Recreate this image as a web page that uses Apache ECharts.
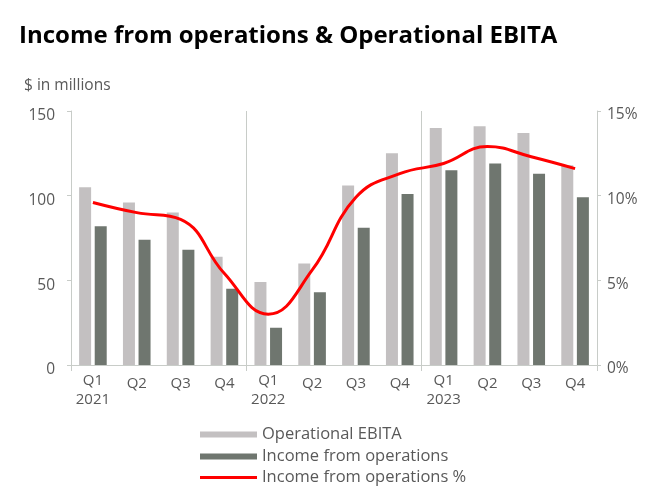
<!DOCTYPE html>
<html lang="en">
<head>
    <meta charset="UTF-8">
    <title>Income from operations & Operational EBITA</title>
    <script src="https://cdn.jsdelivr.net/npm/echarts@6/dist/echarts.min.js"></script>
    <style>
        html, body { margin: 0; padding: 0; background: #fff; }
        #chart { width: 671px; height: 494px; }
    </style>
</head>
<body>
    <div id="chart"></div>
    <script type="text/javascript">
        // data
        var quarters = ['Q1', 'Q2', 'Q3', 'Q4', 'Q1', 'Q2', 'Q3', 'Q4', 'Q1', 'Q2', 'Q3', 'Q4'];
        var years = ['2021', '', '', '', '2022', '', '', '', '2023', '', '', ''];
        var ebita = [105, 96, 90, 64, 49, 60, 106, 125, 140, 141, 137, 118];
        var income = [82, 74, 68, 45, 22, 43, 81, 101, 115, 119, 113, 99];
        var incomePct = [9.6, 9.0, 8.6, 5.4, 3.0, 5.6, 9.9, 11.3, 11.9, 12.9, 12.3, 11.6];
        var leftTicks = [0, 150, 50];   // min, max, step
        var rightTicks = [0, 15, 5];

        var categories = quarters.map(function (q, i) {
            return years[i] ? q + '\n' + years[i] : q;
        });

        var font = 'Open Sans';
        var grey = '#595959';
        var lineGrey = '#c8ccc8';

        var myChart = echarts.init(document.getElementById('chart'));
        var option = {
            animation: false,
            textStyle: { fontFamily: font },
            title: [{
                text: 'Income from operations & Operational EBITA',
                left: 14,
                top: 19,
                textStyle: { fontFamily: font, fontSize: 24, fontWeight: 'bold', color: '#000' }
            }, {
                text: '$ in millions',
                left: 19,
                top: 73,
                textStyle: { fontFamily: font, fontSize: 15.5, fontWeight: 'normal', color: grey }
            }],
            grid: { left: 71, right: 74, top: 111, bottom: 129 },
            legend: [{
                data: ['Operational EBITA'],
                orient: 'vertical', left: 200, top: 426, padding: 0,
                icon: 'rect', itemWidth: 57, itemHeight: 6,
                textStyle: { fontSize: 16.5, color: grey }
            }, {
                data: ['Income from operations'],
                orient: 'vertical', left: 200, top: 448, padding: 0,
                icon: 'rect', itemWidth: 57, itemHeight: 6,
                textStyle: { fontSize: 16.5, color: grey }
            }, {
                data: ['Income from operations %'],
                orient: 'vertical', left: 200, top: 469, padding: 0,
                icon: 'rect', itemWidth: 57, itemHeight: 3,
                textStyle: { fontSize: 16.5, color: grey }
            }],
            xAxis: {
                type: 'category',
                data: categories,
                axisLine: { lineStyle: { color: lineGrey } },
                axisTick: {
                    show: true, length: 6,
                    interval: function (i) { return i % 4 === 0; },
                    lineStyle: { color: lineGrey }
                },
                splitLine: {
                    show: true,
                    interval: function (i) { return i % 4 === 0 && i > 0; },
                    lineStyle: { color: lineGrey }
                },
                axisLabel: {
                    interval: 0, margin: 6, color: grey, fontSize: 15, lineHeight: 19,
                    formatter: function (v) {
                        return v.indexOf('\n') >= 0 ? v : '{s|' + v + '}';
                    },
                    rich: { s: { fontSize: 15, color: grey, padding: [6, 0, 0, 0] } }
                }
            },
            yAxis: [{
                type: 'value',
                min: leftTicks[0], max: leftTicks[1], interval: leftTicks[2],
                axisLine: { show: true, lineStyle: { color: lineGrey } },
                axisTick: { show: true, length: 4, lineStyle: { color: lineGrey } },
                splitLine: { show: false },
                axisLabel: {
                    margin: 16,
                    formatter: function (v) { return '{p|' + v + '}'; },
                    rich: { p: { color: grey, fontSize: 15.5, padding: [10, 0, 0, 0] } }
                }
            }, {
                type: 'value',
                min: rightTicks[0], max: rightTicks[1], interval: rightTicks[2],
                axisLine: { show: true, lineStyle: { color: lineGrey } },
                axisTick: { show: true, length: 4, lineStyle: { color: lineGrey } },
                splitLine: { show: false },
                axisLabel: {
                    margin: 10,
                    formatter: function (v) { return '{p|' + v + '%}'; },
                    rich: { p: { color: grey, fontSize: 15.5, padding: [8, 0, 0, 0] } }
                }
            }],
            series: [{
                name: 'Operational EBITA',
                type: 'bar',
                data: ebita,
                barWidth: 12,
                barGap: '30%',
                itemStyle: { color: '#c3c0c1' }
            }, {
                name: 'Income from operations',
                type: 'bar',
                data: income,
                barWidth: 12,
                itemStyle: { color: '#6f766f' }
            }, {
                name: 'Income from operations %',
                type: 'line',
                yAxisIndex: 1,
                data: incomePct,
                smooth: 0.45,
                showSymbol: false,
                lineStyle: { color: '#ff0000', width: 3 },
                itemStyle: { color: '#ff0000' }
            }]
        };
        myChart.setOption(option);
    </script>
</body>
</html>
